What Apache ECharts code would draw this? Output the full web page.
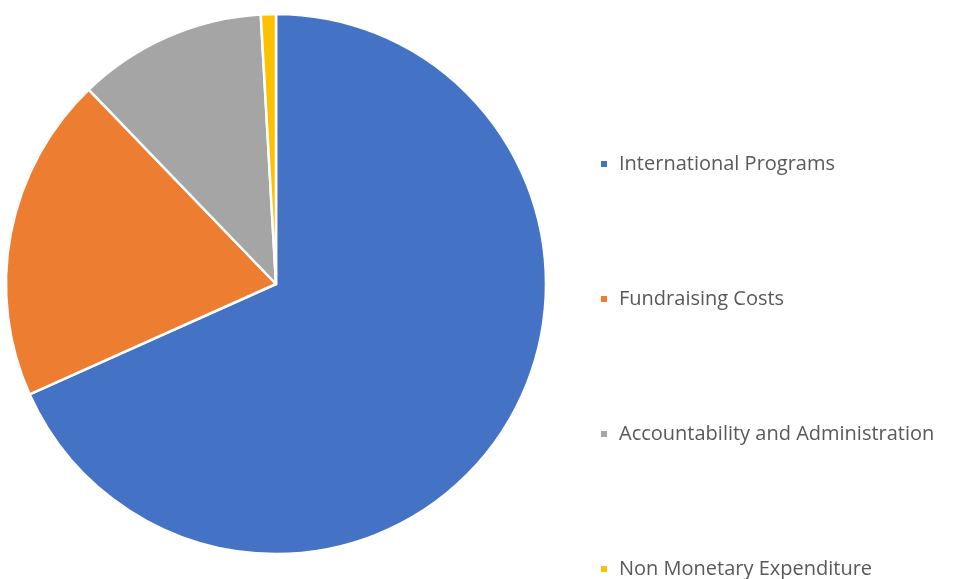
<!DOCTYPE html>
<html>
<head>
<meta charset="utf-8">
<script src="https://cdn.jsdelivr.net/npm/echarts@6/dist/echarts.min.js"></script>
<style>html,body{margin:0;padding:0;background:#fff}#c{width:953px;height:579px}</style>
</head>
<body>
<div id="c"></div>
<script>
var categories = ['International Programs', 'Fundraising Costs', 'Accountability and Administration', 'Non Monetary Expenditure'];
var values = [68.3, 19.5, 11.3, 0.9];
var colors = ['#4472C4', '#ED7D31', '#A5A5A5', '#FFC000'];

var legendTops = [149, 284, 419, 554];

var chart = echarts.init(document.getElementById('c'), null, {renderer: 'canvas'});
chart.setOption({
  animation: false,
  color: colors,
  legend: categories.map(function (n, i) {
    return {
      orient: 'vertical',
      left: 594,
      top: legendTops[i],
      itemWidth: 8,
      itemHeight: 8,
      icon: 'rect',
      selectedMode: false,
      textStyle: {fontFamily: 'Open Sans', fontSize: 20, color: '#595959', padding: [0, 0, 0, 6]},
      data: [n]
    };
  }),
  series: [{
    type: 'pie',
    center: [276, 284],
    radius: [0, 270],
    startAngle: 90,
    clockwise: true,
    label: {show: false},
    labelLine: {show: false},
    itemStyle: {borderColor: '#fff', borderWidth: 2.5},
    emphasis: {disabled: true},
    data: categories.map(function (n, i) { return {name: n, value: values[i]}; })
  }]
});
</script>
</body>
</html>
